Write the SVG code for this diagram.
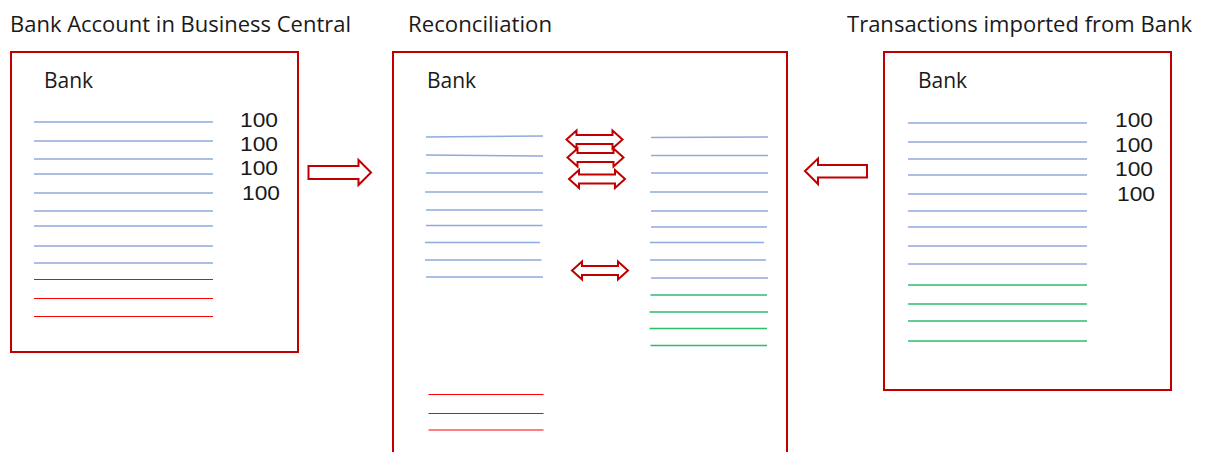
<svg xmlns="http://www.w3.org/2000/svg" xmlns:xlink="http://www.w3.org/1999/xlink" width="1205" height="452" viewBox="0 0 1205 452">
<style>
  .box { fill: #ffffff; stroke: #C00000; stroke-width: 2; }
  .title { font-family: "Open Sans", "Liberation Sans", sans-serif; font-size: 22px; fill: #1a1a1a; }
  .lbl { font-family: "Open Sans", "Liberation Sans", sans-serif; font-size: 21px; fill: #1a1a1a; }
  .num { font-family: "Liberation Sans", "Open Sans", sans-serif; font-size: 20.5px; fill: #1a1a1a; }
  .b { stroke: #8FAADC; stroke-width: 1.4; fill: none; }
  .r { stroke: #FF0000; stroke-width: 1.2; fill: none; }
  .g { stroke: #2DBD6A; stroke-width: 1.3; fill: none; }
  .arr { fill: #ffffff; stroke: #C00000; stroke-width: 2; stroke-linejoin: miter; }
</style>
<defs>
  <path id="dbl" d="M-28,0 L-18,-9 L-18,-4.5 L18,-4.5 L18,-9 L28,0 L18,9 L18,4.5 L-18,4.5 L-18,9 Z"/>
</defs>
<rect width="1205" height="452" fill="#ffffff"/>

<g id="titles">
  <text class="title" x="10" y="32" textLength="341" lengthAdjust="spacingAndGlyphs">Bank Account in Business Central</text>
  <text class="title" x="408" y="32" textLength="144" lengthAdjust="spacingAndGlyphs">Reconciliation</text>
  <text class="title" x="847" y="32" textLength="345" lengthAdjust="spacingAndGlyphs">Transactions imported from Bank</text>
</g>

<g id="node-bc">
  <rect class="box" x="11" y="52" width="287" height="300"/>
  <text class="lbl" x="44" y="88">Bank</text>
  <line class="b" x1="34" y1="122" x2="213" y2="122"/>
  <line class="b" x1="34" y1="141" x2="213" y2="141"/>
  <line class="b" x1="34" y1="159" x2="213" y2="159"/>
  <line class="b" x1="34" y1="174" x2="213" y2="174"/>
  <line class="b" x1="34" y1="193" x2="213" y2="193"/>
  <line class="b" x1="34" y1="211" x2="213" y2="211"/>
  <line class="b" x1="34" y1="226" x2="213" y2="226"/>
  <line class="b" x1="34" y1="246" x2="213" y2="246"/>
  <line class="b" x1="34" y1="263" x2="213" y2="263"/>
  <line class="r" x1="34" y1="279.5" x2="213" y2="279.5"/>
  <line class="r" x1="34" y1="298.5" x2="213" y2="298.5"/>
  <line class="r" x1="34" y1="316.5" x2="213" y2="316.5"/>
  <text class="num" x="240" y="127" textLength="38" lengthAdjust="spacingAndGlyphs">100</text>
  <text class="num" x="240" y="151" textLength="38" lengthAdjust="spacingAndGlyphs">100</text>
  <text class="num" x="240" y="175" textLength="38" lengthAdjust="spacingAndGlyphs">100</text>
  <text class="num" x="242" y="200" textLength="38" lengthAdjust="spacingAndGlyphs">100</text>
</g>

<g id="node-recon">
  <rect class="box" x="393" y="52" width="394" height="420"/>
  <text class="lbl" x="427" y="88">Bank</text>
  <line class="b" x1="426" y1="137" x2="543" y2="136"/>
  <line class="b" x1="426" y1="155" x2="543" y2="156"/>
  <line class="b" x1="426" y1="173" x2="543" y2="173"/>
  <line class="b" x1="425" y1="192" x2="543" y2="192"/>
  <line class="b" x1="426" y1="210" x2="543" y2="210"/>
  <line class="b" x1="426" y1="225.5" x2="542.5" y2="225.5"/>
  <line class="b" x1="425" y1="242.5" x2="540" y2="242.5"/>
  <line class="b" x1="425" y1="260" x2="541.5" y2="260"/>
  <line class="b" x1="426" y1="277" x2="543" y2="277"/>
  <line class="r" x1="428.5" y1="394.5" x2="543.5" y2="394.5"/>
  <line class="r" x1="428.5" y1="413.5" x2="543.5" y2="413.5"/>
  <line class="r" x1="428.5" y1="430" x2="543.5" y2="430"/>

  <line class="b" x1="651" y1="137.5" x2="768" y2="137"/>
  <line class="b" x1="651" y1="155.5" x2="768" y2="155.5"/>
  <line class="b" x1="651" y1="173" x2="768" y2="173"/>
  <line class="b" x1="650" y1="192" x2="768" y2="192"/>
  <line class="b" x1="651" y1="211" x2="768" y2="211"/>
  <line class="b" x1="651" y1="227" x2="767" y2="227"/>
  <line class="b" x1="650" y1="242.5" x2="764" y2="242.5"/>
  <line class="b" x1="650" y1="260" x2="766" y2="260"/>
  <line class="b" x1="651" y1="278" x2="768" y2="278"/>
  <line class="g" x1="650.5" y1="295" x2="767" y2="295"/>
  <line class="g" x1="649.5" y1="312" x2="768" y2="312"/>
  <line class="g" x1="649.5" y1="328.5" x2="767" y2="328.5"/>
  <line class="g" x1="650.5" y1="345.5" x2="767" y2="345.5"/>

  <use xlink:href="#dbl" href="#dbl" class="arr" transform="translate(594.5,139.5)"/>
  <use xlink:href="#dbl" href="#dbl" class="arr" transform="translate(595.5,157.5)"/>
  <use xlink:href="#dbl" href="#dbl" class="arr" transform="translate(597,179)"/>
  <use xlink:href="#dbl" href="#dbl" class="arr" transform="translate(600,270.5)"/>
</g>

<g id="node-import">
  <rect class="box" x="884" y="52" width="287" height="338"/>
  <text class="lbl" x="918" y="88">Bank</text>
  <line class="b" x1="908" y1="123" x2="1087" y2="123"/>
  <line class="b" x1="908" y1="142" x2="1087" y2="142"/>
  <line class="b" x1="908" y1="159" x2="1087" y2="159"/>
  <line class="b" x1="908" y1="175" x2="1087" y2="175"/>
  <line class="b" x1="908" y1="194" x2="1087" y2="194"/>
  <line class="b" x1="908" y1="211" x2="1087" y2="211"/>
  <line class="b" x1="908" y1="227" x2="1087" y2="227"/>
  <line class="b" x1="908" y1="246" x2="1087" y2="246"/>
  <line class="b" x1="908" y1="264" x2="1087" y2="264"/>
  <line class="g" x1="908" y1="285" x2="1087" y2="285"/>
  <line class="g" x1="908" y1="304" x2="1087" y2="304"/>
  <line class="g" x1="908" y1="321" x2="1087" y2="321"/>
  <line class="g" x1="908" y1="341" x2="1087" y2="341"/>
  <text class="num" x="1115" y="127" textLength="38" lengthAdjust="spacingAndGlyphs">100</text>
  <text class="num" x="1115" y="151.5" textLength="38" lengthAdjust="spacingAndGlyphs">100</text>
  <text class="num" x="1115" y="176" textLength="38" lengthAdjust="spacingAndGlyphs">100</text>
  <text class="num" x="1117" y="200.5" textLength="38" lengthAdjust="spacingAndGlyphs">100</text>
</g>

<g id="connectors">
  <path class="arr" d="M308.5,166 L358.5,166 L358.5,160 L371,172.5 L358.5,185 L358.5,179 L308.5,179 Z"/>
  <path class="arr" d="M867,165 L818,165 L818,158.5 L805,171 L818,184 L818,177.5 L867,177.5 Z"/>
</g>
</svg>
